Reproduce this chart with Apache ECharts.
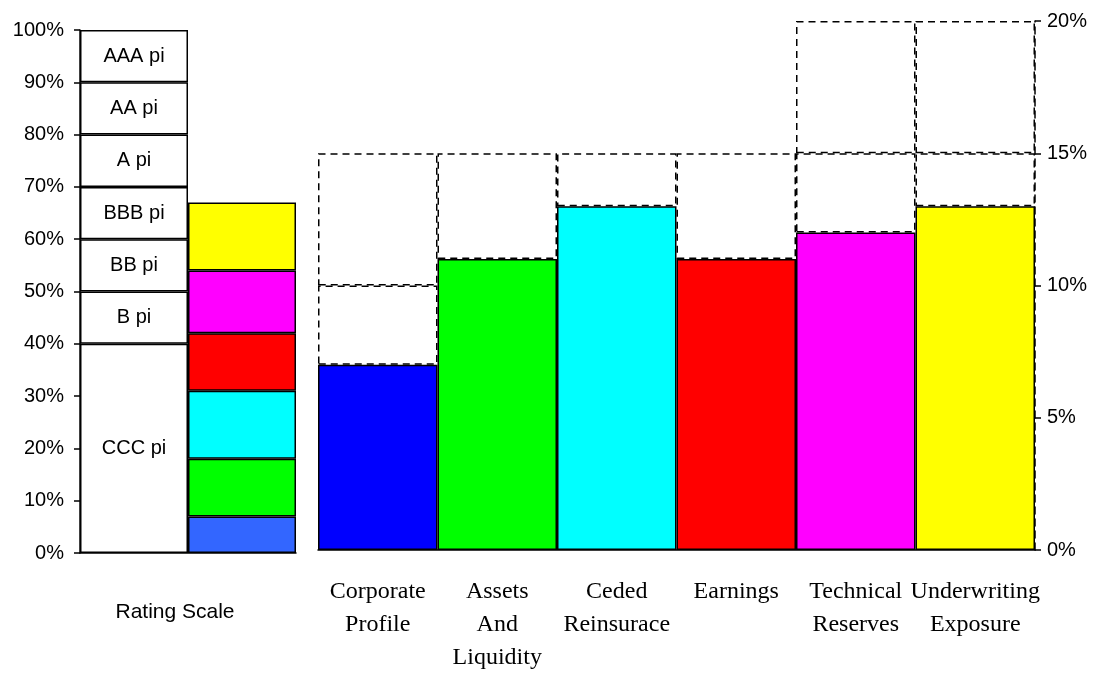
<!DOCTYPE html>
<html>
<head>
<meta charset="utf-8">
<script src="https://cdn.jsdelivr.net/npm/echarts@6/dist/echarts.min.js"></script>
<style>
  html, body { margin: 0; padding: 0; background: #fff; }
  #main { width: 1097px; height: 674px; }
</style>
</head>
<body>
<div id="main"></div>
<script>
// rating scale bands (percent of scale)
var ratingNames = ['CCC pi', 'B pi', 'BB pi', 'BBB pi', 'A pi', 'AA pi', 'AAA pi'];
var ratingBands = [40, 10, 10, 10, 10, 10, 10];

// factor scores
var factors = ['Corporate\nProfile', 'Assets\nAnd\nLiquidity', 'Ceded\nReinsurace', 'Earnings', 'Technical\nReserves', 'Underwriting\nExposure'];
var scores = [7, 11, 13, 11, 12, 13];
var maxLevels = [15, 15, 15, 15, 20, 20];
var capSteps = [10, 15, 20];

var leftColors = ['#3366FF', '#00FF00', '#00FFFF', '#FF0000', '#FF00FF', '#FFFF00'];
var rightColors = ['#0000FF', '#00FF00', '#00FFFF', '#FF0000', '#FF00FF', '#FFFF00'];

var sans = 'Liberation Sans';
var serif = 'Liberation Serif';

var series = [];

// rating boxes, category 0 of left grid
for (var i = 0; i < ratingBands.length; i++) {
  series.push({
    type: 'bar', stack: 'left', xAxisIndex: 0, yAxisIndex: 0,
    barCategoryGap: 0, barGap: 0,
    data: [ratingBands[i], '-'],
    itemStyle: { color: '#fff', borderColor: '#000', borderWidth: 1.5 },
    label: { show: true, position: 'inside', formatter: ratingNames[i], color: '#000', fontFamily: sans, fontSize: 20 },
    silent: true
  });
}
// coloured stack of scores, category 1 of left grid
for (var j = 0; j < scores.length; j++) {
  series.push({
    type: 'bar', stack: 'left', xAxisIndex: 0, yAxisIndex: 0,
    barCategoryGap: 0, barGap: 0,
    data: ['-', scores[j]],
    itemStyle: { color: leftColors[j], borderColor: '#000', borderWidth: 1.5 },
    silent: true
  });
}

// right grid: actual scores
series.push({
  type: 'bar', stack: 'right', xAxisIndex: 1, yAxisIndex: 1,
  barCategoryGap: 0, barGap: 0, z: 4,
  data: scores.map(function (v, k) {
    return { value: v, itemStyle: { color: rightColors[k] } };
  }),
  itemStyle: { borderColor: '#000', borderWidth: 1.5 },
  silent: true
});

// dashed boxes up to each cap step
var reached = scores.slice();
capSteps.forEach(function (step) {
  var d = [];
  for (var k = 0; k < scores.length; k++) {
    if (step <= maxLevels[k] && reached[k] < step) {
      d.push(step - reached[k]);
      reached[k] = step;
    } else {
      d.push('-');
    }
  }
  series.push({
    type: 'bar', stack: 'right', xAxisIndex: 1, yAxisIndex: 1,
    barCategoryGap: 0, barGap: 0, z: 2,
    data: d,
    itemStyle: { color: 'rgba(0,0,0,0)', borderColor: '#000', borderWidth: 1.5, borderType: [7, 5] },
    silent: true
  });
});

var chart = echarts.init(document.getElementById('main'));
chart.setOption({
  animation: false,
  backgroundColor: '#fff',
  grid: [
    { left: 80, top: 30, width: 216, height: 523 },
    { left: 318, top: 21, width: 717, height: 532 }
  ],
  xAxis: [
    {
      type: 'category', gridIndex: 0, data: ['', ''],
      axisLine: { lineStyle: { color: '#000', width: 1.5 } },
      axisTick: { show: false }, axisLabel: { show: false },
      name: 'Rating Scale', nameLocation: 'middle', nameGap: 49,
      nameTextStyle: { color: '#000', fontFamily: sans, fontSize: 21, padding: [0, 26, 0, 0] }
    },
    {
      type: 'category', gridIndex: 1, data: factors,
      axisLine: { lineStyle: { color: '#000', width: 1.5 } },
      axisTick: { show: false },
      axisLabel: { interval: 0, color: '#000', fontFamily: serif, fontSize: 24, lineHeight: 33, margin: 25 }
    }
  ],
  yAxis: [
    {
      type: 'value', gridIndex: 0, min: 0, max: 100, interval: 10, position: 'left',
      axisLine: { show: true, lineStyle: { color: '#000', width: 1.5 } },
      axisTick: { show: true, length: 6, lineStyle: { color: '#000', width: 1.5 } },
      splitLine: { show: false },
      axisLabel: { formatter: '{value}%', color: '#000', fontFamily: sans, fontSize: 20, margin: 16 }
    },
    {
      type: 'value', gridIndex: 1, min: 0, max: 20, interval: 5, position: 'right', z: 5,
      axisLine: { show: true, lineStyle: { color: '#000', width: 1.5, type: [7, 5] } },
      axisTick: { show: true, length: 6, lineStyle: { color: '#000', width: 1.5 } },
      splitLine: { show: false },
      axisLabel: { formatter: '{value}%', color: '#000', fontFamily: sans, fontSize: 20, margin: 12 }
    }
  ],
  series: series
});
</script>
</body>
</html>
